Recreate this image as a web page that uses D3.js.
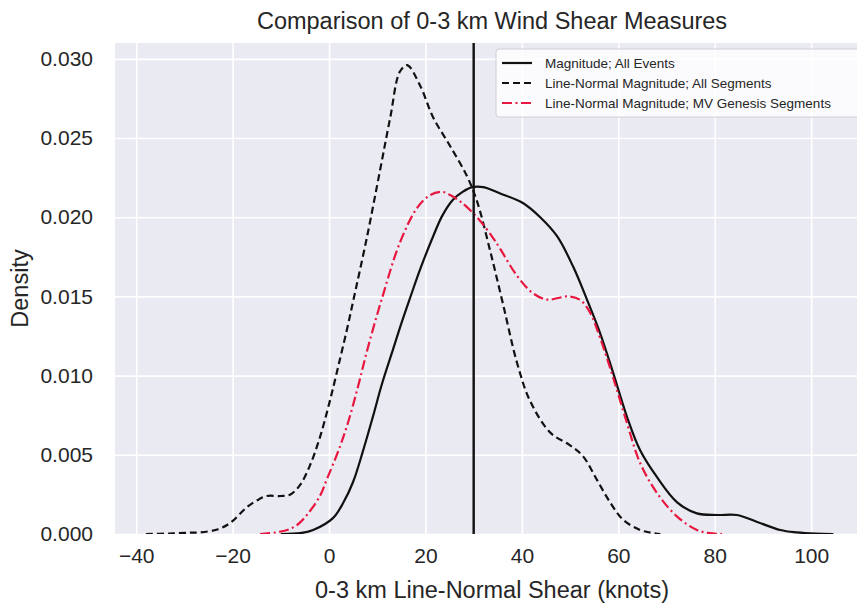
<!DOCTYPE html>
<html>
<head>
<meta charset="utf-8">
<script src="https://cdn.jsdelivr.net/npm/d3@7"></script>
<style>
  body { margin: 0; background: #fff; }
  text { font-family: "Liberation Sans", Arial, sans-serif; fill: #262626; }
</style>
</head>
<body>
<svg id="chart"></svg>
<script>
// KDE curves (x in knots, y density)
const magX = [-10, -6, -3.3, 0.8, 3, 5, 7, 9, 11, 13, 15, 16.8, 19, 21.6, 23.5, 25.7, 27.7, 29.7, 32, 35.5, 40.2, 43.8, 47.3, 50.6, 53.5, 56.2, 58.9, 61.8, 64.5, 68, 72.2, 76.3, 80.5, 84.6, 88.8, 93.6, 97, 101, 104.6];
const magY = [0, 0.00005, 0.00025, 0.001, 0.002, 0.0033, 0.0052, 0.0073, 0.0095, 0.0114, 0.0133, 0.0149, 0.0168, 0.0188, 0.0201, 0.0211, 0.0216, 0.0219, 0.0219, 0.0215, 0.0209, 0.02, 0.0188, 0.0169, 0.0148, 0.0127, 0.0102, 0.0074, 0.0053, 0.0036, 0.002, 0.0013, 0.0012, 0.0012, 0.00076, 0.00025, 0.0001, 0.00002, 0];

const segX = [-38, -33, -29, -26.8, -23, -20.5, -17, -14.5, -12.9, -10, -8, -6, -4, -2, 0, 2, 4, 5, 7.9, 10.6, 12.7, 14.7, 16.2, 18.9, 21.6, 25.1, 28.6, 30.7, 33.4, 36.1, 39, 41.7, 45.9, 50, 52.7, 55.6, 58.3, 61, 64.5, 66.5, 68.7];
const segY = [0, 0.00003, 0.00008, 0.0001, 0.0003, 0.0007, 0.0017, 0.0022, 0.0024, 0.0024, 0.0025, 0.0031, 0.0043, 0.006, 0.0082, 0.0107, 0.0133, 0.0147, 0.0188, 0.023, 0.0263, 0.0292, 0.0296, 0.0283, 0.0263, 0.0245, 0.0226, 0.021, 0.0179, 0.0145, 0.0108, 0.0084, 0.0064, 0.0056, 0.0049, 0.0034, 0.002, 0.0009, 0.00025, 0.0001, 0];

const mvX = [-14.3, -11, -8.7, -6.5, -4.6, -1.9, -0.4, 2, 4, 6, 8, 11, 14.7, 18.3, 21, 23.5, 25.1, 27.2, 30.7, 34, 35.5, 39, 42.3, 45.2, 47.5, 49.4, 52, 54.1, 56.2, 58.9, 61.8, 64.5, 68, 72.2, 76.3, 79, 81.5];
const mvY = [0, 0.0001, 0.00025, 0.0006, 0.0012, 0.0024, 0.0035, 0.0053, 0.0071, 0.0093, 0.0117, 0.0149, 0.0184, 0.0206, 0.0214, 0.0216, 0.0214, 0.021, 0.02, 0.0187, 0.018, 0.0163, 0.0152, 0.0148, 0.0149, 0.015, 0.0148, 0.014, 0.0124, 0.0099, 0.007, 0.0045, 0.0026, 0.0011, 0.00025, 0.00005, 0];

const meanLine = 30;
const xTicks = [-40, -20, 0, 20, 40, 60, 80, 100];
const yTicks = [0, 0.005, 0.01, 0.015, 0.02, 0.025, 0.03];
const labels = ["Magnitude; All Events", "Line-Normal Magnitude; All Segments", "Line-Normal Magnitude; MV Genesis Segments"];

const W = 857, H = 603;
const margin = {top: 43, left: 115, bottom: 534, right: 869};

const svg = d3.select('#chart').attr('width', W).attr('height', H);

const x = d3.scaleLinear().domain([-44.4, 112]).range([margin.left, margin.right]);
const y = d3.scaleLinear().domain([0, 0.031]).range([margin.bottom, margin.top]);

// background + grid
svg.append('rect')
  .attr('x', margin.left).attr('y', margin.top)
  .attr('width', margin.right - margin.left).attr('height', margin.bottom - margin.top)
  .attr('fill', '#eaeaf2');

svg.append('clipPath').attr('id', 'clip').append('rect')
  .attr('x', margin.left).attr('y', margin.top)
  .attr('width', margin.right - margin.left).attr('height', margin.bottom - margin.top);

const gx = svg.append('g')
  .attr('transform', 'translate(0,' + margin.bottom + ')')
  .call(d3.axisBottom(x).tickValues(xTicks).tickSize(-(margin.bottom - margin.top)).tickPadding(14)
    .tickFormat(d => d < 0 ? '\u2212' + Math.abs(d) : d));
gx.select('.domain').remove();
gx.selectAll('line').attr('stroke', '#fff').attr('stroke-width', 1.6);
gx.selectAll('text').attr('font-size', 21).attr('fill', '#262626');

const gy = svg.append('g')
  .attr('transform', 'translate(' + margin.left + ',0)')
  .call(d3.axisLeft(y).tickValues(yTicks).tickSize(-(margin.right - margin.left)).tickPadding(22)
    .tickFormat(d3.format('.3f')));
gy.select('.domain').remove();
gy.selectAll('line').attr('stroke', '#fff').attr('stroke-width', 1.6);
gy.selectAll('text').attr('font-size', 21).attr('fill', '#262626');

// curves
const line = d3.line()
  .curve(d3.curveCatmullRom)
  .x(d => x(d[0]))
  .y(d => y(d[1]));

const plot = svg.append('g').attr('clip-path', 'url(#clip)');

const series = [
  {xs: magX, ys: magY, color: '#111', dash: null},
  {xs: segX, ys: segY, color: '#111', dash: '7,4'},
  {xs: mvX, ys: mvY, color: '#e8173f', dash: '10,3.5,2,3.5'}
];

series.forEach(s => {
  plot.append('path')
    .datum(d3.zip(s.xs, s.ys))
    .attr('fill', 'none')
    .attr('stroke', s.color)
    .attr('stroke-width', 2.2)
    .attr('stroke-dasharray', s.dash)
    .attr('d', line);
});

plot.append('line')
  .attr('x1', x(meanLine)).attr('x2', x(meanLine))
  .attr('y1', margin.top).attr('y2', margin.bottom)
  .attr('stroke', '#111').attr('stroke-width', 2.4);

// legend
const lg = svg.append('g');
lg.append('rect')
  .attr('x', 496).attr('y', 49).attr('width', 400).attr('height', 68).attr('rx', 3)
  .attr('fill', '#fff').attr('fill-opacity', 0.8)
  .attr('stroke', '#cfcfd6');
labels.forEach((t, i) => {
  const ly = 63 + i * 20;
  lg.append('line')
    .attr('x1', 502).attr('x2', 532).attr('y1', ly).attr('y2', ly)
    .attr('stroke', series[i].color).attr('stroke-width', 2.2)
    .attr('stroke-dasharray', series[i].dash);
  lg.append('text')
    .attr('x', 545).attr('y', ly + 5)
    .attr('font-size', 13.5).attr('fill', '#333')
    .text(t);
});

// titles
const cx = (margin.left + margin.right) / 2;
svg.append('text')
  .attr('x', cx).attr('y', 29).attr('text-anchor', 'middle')
  .attr('font-size', 23.5)
  .text('Comparison of 0-3 km Wind Shear Measures');

svg.append('text')
  .attr('x', cx).attr('y', 598).attr('text-anchor', 'middle')
  .attr('font-size', 23.5)
  .text('0-3 km Line-Normal Shear (knots)');

svg.append('text')
  .attr('transform', 'translate(28,' + ((margin.top + margin.bottom) / 2) + ') rotate(-90)')
  .attr('text-anchor', 'middle')
  .attr('font-size', 23.5)
  .text('Density');
</script>
</body>
</html>
